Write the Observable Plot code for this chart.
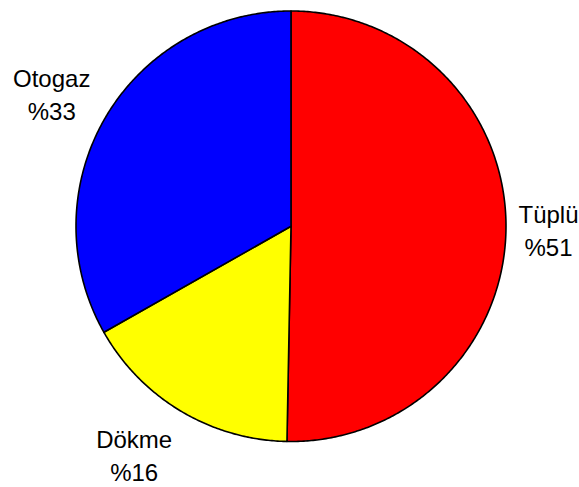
<!DOCTYPE html>
<html>
<head>
<meta charset="utf-8">
<script src="https://cdn.jsdelivr.net/npm/d3@7"></script>
<script src="https://cdn.jsdelivr.net/npm/@observablehq/plot@0.6"></script>
<style>
  html, body { margin: 0; padding: 0; background: #fff; }
</style>
</head>
<body>
<div id="chart"></div>
<script>
const names = ["Tüplü", "Dökme", "Otogaz"];
const shares = [50.3, 16.5, 33.2];
const pctLabels = ["%51", "%16", "%33"];
const colors = ["#ff0000", "#ffff00", "#0000ff"];

const W = 579, H = 487;
const fontSize = 24;
const fontFamily = "Liberation Sans, Arial, sans-serif";
const lineHeight = 1.375;
const mL = 75.5, mR = 73.5, mT = 10.5, mB = 46;
const R = (W - mL - mR) / 2; // pixel radius (for label boxes)

const ctx = document.createElement("canvas").getContext("2d");
ctx.font = `${fontSize}px ${fontFamily}`;

const total = d3.sum(shares);
const slicePts = [];
const labels = [];
let acc = 0;
shares.forEach((v, i) => {
  const a0 = acc / total * 2 * Math.PI;
  acc += v;
  const a1 = acc / total * 2 * Math.PI;
  const steps = Math.max(2, Math.ceil((a1 - a0) / (Math.PI / 360)));
  slicePts.push({name: names[i], x: 0, y: 0});
  for (let s = 0; s <= steps; s++) {
    const a = a0 + (a1 - a0) * s / steps;
    slicePts.push({name: names[i], x: Math.sin(a), y: Math.cos(a)});
  }
  slicePts.push({name: names[i], x: 0, y: 0});
  // label box placed just outside the arc, pushed outward along mid-angle
  const m = (a0 + a1) / 2;
  const dx = Math.sin(m), dy = Math.cos(m);
  const w = Math.max(ctx.measureText(names[i]).width, ctx.measureText(pctLabels[i]).width);
  const h = 2 * lineHeight * fontSize;
  const k = 1.08;
  let px = dx * k * R + Math.sign(dx) * w / 2;
  const py = dy * k * R + dy * h / 2;
  // keep the text box inside the picture horizontally
  const cxPix = mL + R;
  const maxX = W - 1 - w / 2 - cxPix, minX = 1 + w / 2 - cxPix;
  px = Math.min(maxX, Math.max(minX, px));
  labels.push({x: px / R, y: py / R, text: names[i] + "\n" + pctLabels[i]});
});

const chart = Plot.plot({
  width: W,
  height: H,
  marginLeft: mL,
  marginRight: mR,
  marginTop: mT,
  marginBottom: mB,
  x: {domain: [-1, 1], axis: null},
  y: {domain: [-1, 1], axis: null},
  color: {domain: names, range: colors},
  style: {overflow: "visible", background: "#fff"},
  marks: [
    Plot.line(slicePts, {
      x: "x", y: "y", z: "name",
      fill: "name",
      stroke: "#000",
      strokeWidth: 1.6,
      strokeLinejoin: "round",
      curve: "linear"
    }),
    Plot.text(labels, {
      x: "x", y: "y", text: "text",
      fontSize: fontSize,
      fontFamily: fontFamily,
      lineHeight: lineHeight,
      fill: "#000",
      textAnchor: "middle"
    })
  ]
});
document.getElementById("chart").appendChild(chart);
</script>
</body>
</html>
